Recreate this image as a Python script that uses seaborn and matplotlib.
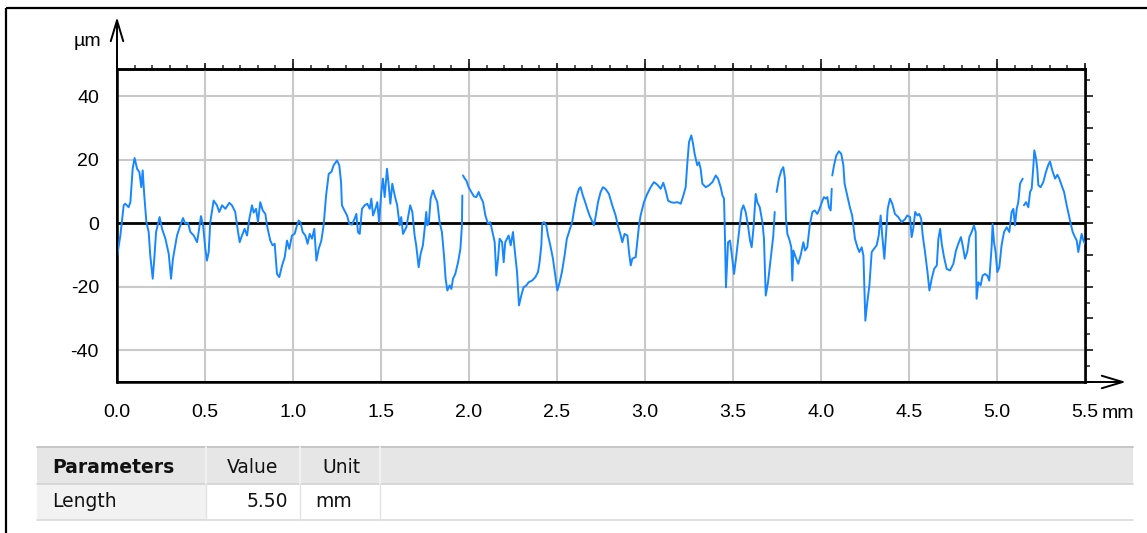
import numpy as np
import pandas as pd
import matplotlib
matplotlib.use("Agg")
import matplotlib.pyplot as plt
from matplotlib.ticker import MultipleLocator, FuncFormatter, NullFormatter, NullLocator
from matplotlib.patches import Rectangle
import seaborn as sns

# ---------------- data ----------------
x_a = [0.000,0.019,0.038,0.047,0.066,0.076,0.089,0.100,0.114,0.127,
       0.138,0.146,0.155,0.167,0.180,0.189,0.203,0.212,0.222,0.242,
       0.256,0.275,0.294,0.307,0.318,0.341,0.360,0.375,0.388,0.403,
       0.417,0.436,0.455,0.464,0.477,0.489,0.502,0.511,0.521,0.530,
       0.540,0.549,0.568,0.581,0.597,0.616,0.638,0.653,0.672,0.682,
       0.697,0.710,0.725,0.739,0.752,0.767,0.777,0.790,0.801,0.814,
       0.828,0.843,0.852,0.871,0.884,0.896,0.909,0.922,0.938,0.953,
       0.966,0.979,0.994,1.009,1.023,1.032,1.042,1.055,1.070,1.083,
       1.095,1.108,1.121,1.133,1.146,1.161,1.174,1.188,1.203,1.218,
       1.231,1.250,1.263,1.273,1.278,1.292,1.307,1.320,1.335,1.350,
       1.360,1.369,1.379]
y_a = [-10.7,-3.9,5.6,6.1,5.0,6.6,17.1,20.5,17.1,16.1,
       11.3,16.6,8.7,0.3,-2.8,-10.2,-17.5,-11.2,-2.8,1.9,
       -1.8,-4.9,-9.7,-17.5,-11.2,-3.9,-0.7,1.6,-0.2,0.1,
       -2.8,-3.9,-6.0,-2.8,2.2,-0.7,-8.1,-11.8,-9.1,0.3,
       4.0,7.1,5.6,3.5,5.6,4.5,6.4,5.6,3.5,-0.7,
       -6.0,-3.9,-1.8,-3.9,1.4,5.6,3.3,4.5,0.3,6.6,
       4.0,2.9,-0.7,-5.5,-7.0,-6.5,-16.0,-17.0,-13.3,-10.7,
       -5.5,-8.1,-3.9,-3.4,-0.7,0.8,0.3,-2.8,-3.9,-6.5,
       -3.4,-4.9,-1.8,-11.8,-8.1,-5.5,-0.7,8.7,15.5,16.1,
       18.2,19.7,18.2,12.9,5.6,4.0,2.4,-0.2,-0.5,1.4,
       2.9,-2.8,-3.4]

x_b = [1.392,1.407,1.422,1.436,1.445,1.455,1.468,1.479,1.489,1.502,
       1.511,1.521,1.534,1.543,1.553,1.564,1.578,1.592,1.606,1.615,
       1.625,1.644,1.657,1.666,1.678,1.691,1.700,1.714,1.725,1.738,
       1.748,1.757,1.763,1.772,1.782,1.795,1.808,1.820,1.833,1.846,
       1.858,1.867,1.877,1.890,1.900,1.909,1.922,1.938,1.951,1.960,
       1.962,1.966,1.976,1.985,1.998,2.013,2.028,2.042,2.055,2.066,
       2.080,2.093,2.108,2.121,2.133,2.146,2.155,2.165,2.174,2.188,
       2.197,2.206,2.216,2.225,2.237,2.250,2.259,2.273,2.284,2.297,
       2.310,2.326,2.339,2.358,2.377,2.392,2.401,2.411,2.416,2.426,
       2.439,2.449,2.462,2.477,2.490,2.502,2.515,2.528,2.543,2.556,
       2.571,2.586,2.600,2.613,2.625,2.634,2.647,2.660,2.672,2.685,
       2.698,2.710,2.719,2.733,2.748,2.761,2.775]
y_b = [4.5,5.6,6.1,4.5,7.7,2.4,4.5,6.6,0.3,9.8,
       14.0,8.2,17.1,12.4,6.1,12.4,8.7,5.6,-0.7,1.9,
       -3.4,-1.3,2.9,5.6,3.5,-3.9,-7.0,-13.9,-9.7,-7.0,
       -1.8,3.5,-0.7,0.3,7.7,10.3,8.2,6.6,0.3,-2.8,
       -10.2,-17.5,-21.2,-19.6,-20.7,-17.5,-16.0,-12.3,-8.1,-0.7,
       8.7,15.0,14.0,13.4,11.3,9.8,8.4,8.2,9.8,8.2,
       6.6,2.4,-0.2,0.3,-2.8,-6.0,-16.5,-11.2,-4.9,-6.0,
       -12.3,-6.0,-4.9,-3.9,-7.0,-2.8,-8.1,-15.4,-25.9,-22.8,
       -20.2,-19.6,-18.6,-18.1,-17.0,-15.4,-12.3,-7.0,-0.2,0.3,
       -0.7,-3.9,-7.0,-11.2,-16.5,-21.2,-18.6,-15.4,-10.2,-4.9,
       -2.3,0.3,5.0,8.7,10.8,11.3,8.7,6.6,4.5,2.4,
       0.8,-0.7,1.9,6.6,9.8,11.3,10.8]

x_c = [2.795,2.814,2.833,2.846,2.862,2.871,2.884,2.900,2.909,2.919,
       2.928,2.947,2.956,2.966,2.975,2.994,3.013,3.032,3.051,3.070,
       3.089,3.104,3.117,3.131,3.146,3.165,3.184,3.203,3.218,3.231,
       3.241,3.250,3.263,3.273,3.282,3.297,3.307,3.316,3.326,3.345,
       3.364,3.383,3.402,3.415,3.430,3.440,3.449,3.455,3.460,3.472,
       3.483,3.496,3.506,3.519,3.534,3.548,3.559,3.572,3.585,3.597,
       3.606,3.616,3.629,3.638,3.652,3.667,3.676,3.686,3.699,3.714,
       3.729,3.737,3.748,3.761,3.775,3.786,3.795,3.801,3.809,3.822,
       3.831,3.837,3.843,3.856,3.871,3.884,3.900,3.909,3.922,3.936,
       3.951,3.964,3.979,3.992,4.008,4.017,4.027,4.036,4.045,4.055,
       4.061,4.064,4.074,4.087,4.102,4.115,4.127,4.134,4.149,4.164,
       4.177]
y_c = [9.2,5.6,2.4,-0.7,-3.9,-6.0,-3.4,-3.9,-9.1,-13.3,
       -11.2,-10.7,-6.0,-0.7,2.4,6.6,9.2,11.3,12.9,12.1,
       10.8,12.7,10.3,7.1,6.6,6.4,6.6,6.1,8.7,11.3,
       19.2,25.5,27.6,25.0,21.8,18.2,19.2,17.1,12.4,11.3,
       11.9,12.9,15.0,14.0,11.3,8.7,7.7,-6.0,-20.2,-6.0,
       -5.5,-11.2,-16.0,-10.2,-2.8,4.0,5.6,3.5,-0.7,-5.5,
       -7.6,-1.8,9.2,6.6,5.0,0.3,-4.9,-22.8,-18.6,-11.2,
       -3.9,3.5,9.8,14.0,16.6,17.6,14.0,1.4,-3.4,-5.5,
       -7.6,-18.1,-8.6,-10.7,-12.8,-10.2,-6.0,-8.6,-7.6,-0.7,
       3.5,4.0,2.9,4.5,7.1,8.2,7.7,8.2,5.0,4.0,
       10.8,15.0,18.2,21.3,22.6,21.8,18.2,12.4,8.7,5.0,
       2.4]

x_d = [4.193,4.207,4.218,4.231,4.241,4.246,4.252,4.263,4.275,4.288,
       4.301,4.316,4.328,4.339,4.348,4.360,4.369,4.379,4.392,4.405,
       4.420,4.439,4.458,4.477,4.490,4.506,4.515,4.524,4.535,4.548,
       4.558,4.569,4.578,4.591,4.605,4.616,4.629,4.643,4.658,4.667,
       4.677,4.686,4.699,4.714,4.733,4.752,4.767,4.780,4.795,4.805,
       4.818,4.831,4.843,4.856,4.869,4.879,4.884,4.894,4.907,4.918,
       4.932,4.945,4.956,4.970,4.975,4.983,4.992,5.002,5.013,5.026,
       5.040,5.055,5.070,5.083,5.093,5.102,5.112,5.121,5.131,5.146,
       5.153,5.165,5.178,5.188,5.197,5.207,5.212,5.222,5.229,5.235,
       5.248,5.263,5.278,5.292,5.301,5.314,5.330,5.343,5.354,5.367,
       5.381,5.396,5.415,5.430,5.443,5.453,5.462,5.472,5.481,5.491,
       5.500]
y_d = [-4.9,-7.6,-9.1,-7.6,-10.2,-19.6,-30.7,-24.9,-19.6,-9.1,
       -8.1,-7.0,-3.9,2.4,-3.9,-11.2,-3.9,4.5,7.7,6.1,
       2.9,1.9,0.3,1.2,2.4,1.9,-4.4,-1.8,3.5,2.4,
       2.9,1.4,-3.9,-9.1,-15.4,-21.2,-17.5,-14.4,-13.3,-4.9,
       -1.8,-6.5,-10.7,-14.4,-14.9,-12.8,-8.6,-6.5,-4.4,-7.0,
       -11.2,-9.1,-4.4,-2.8,-0.7,-2.8,-23.8,-18.6,-19.6,-16.5,
       -16.0,-16.5,-18.1,-7.0,-0.2,-6.0,-9.1,-15.4,-13.9,-7.0,
       -2.8,-1.3,-2.8,3.5,4.5,-0.7,4.5,6.6,12.4,14.0,
       5.6,6.6,5.0,9.8,10.8,18.2,22.9,20.3,16.9,11.9,
       11.3,12.9,16.1,18.4,19.4,16.6,14.0,15.2,14.0,11.9,
       9.8,5.6,0.8,-2.8,-4.4,-5.5,-9.1,-6.0,-3.4,-5.5,
       -6.5]

# small breaks in the recorded profile (line is interrupted after these x)
gap_after_mm = [1.962, 3.737, 4.061, 5.146]

x_ticks_mm = [0.0, 0.5, 1.0, 1.5, 2.0, 2.5, 3.0, 3.5, 4.0, 4.5, 5.0, 5.5]
y_grid_um = [-40, -20, 20, 40]
x_unit = "mm"
y_unit = "µm"

table_header = ["Parameters", "Value", "Unit"]
table_row = ["Length", "5.50", "mm"]

# ---------------- build frame ----------------
xs = x_a + x_b + x_c + x_d
ys = y_a + y_b + y_c + y_d
assert len(xs) == len(ys)
df = pd.DataFrame({"x": xs, "y": ys})
df["seg"] = np.searchsorted(np.array(gap_after_mm), df["x"].values, side="left")

sns.set_theme(style="white")
tick_font = ["Liberation Sans Narrow", "Liberation Sans", "DejaVu Sans"]
plt.rcParams["font.family"] = tick_font

W, H = 1147, 533
fig = plt.figure(figsize=(W / 100, H / 100), dpi=100)
fig.patch.set_facecolor("white")

# background / table layer in pixel coordinates
bg = fig.add_axes([0, 0, 1, 1])
bg.set_xlim(0, W)
bg.set_ylim(H, 0)
bg.axis("off")
bg.set_zorder(0)
bg.patch.set_alpha(0)

# outer frame lines
bg.plot([6, W], [8, 8], color="black", lw=1.6, solid_capstyle="butt")
bg.plot([6, 6], [8, H], color="black", lw=1.6, solid_capstyle="butt")

# table
tx0, tx1 = 37, 1133
ty0, ty1, ty2 = 447, 484, 520
cols = [37, 206, 300, 380]
bg.add_patch(Rectangle((tx0, ty0), tx1 - tx0, ty1 - ty0, fc="#e6e6e6", ec="none"))
bg.add_patch(Rectangle((cols[0], ty1), cols[1] - cols[0], ty2 - ty1, fc="#f2f2f2", ec="none"))
bg.plot([tx0, tx1], [ty0, ty0], color="#c6c6c6", lw=1.4)
bg.plot([tx0, tx1], [ty1, ty1], color="#d2d2d2", lw=1.2)
bg.plot([tx0, tx1], [ty2, ty2], color="#d9d9d9", lw=1.2)
for cx in cols[1:]:
    bg.plot([cx, cx], [ty0, ty1], color="#f4f4f4", lw=1.2)
    bg.plot([cx, cx], [ty1, ty2], color="#e2e2e2", lw=1.0)

tfont = dict(family=["DejaVu Sans"], fontsize=13.5, color="#111111")
bg.text(52, 473, table_header[0], ha="left", va="baseline", fontweight="bold", **tfont)
bg.text(253, 473, table_header[1], ha="center", va="baseline", **tfont)
bg.text(341, 473, table_header[2], ha="center", va="baseline", **tfont)
bg.text(52, 507, table_row[0], ha="left", va="baseline", **tfont)
bg.text(288, 507, table_row[1], ha="right", va="baseline", **tfont)
bg.text(315, 507, table_row[2], ha="left", va="baseline", **tfont)

# main plot
L, R, T, B = 117, 1085, 69, 382
ax = fig.add_axes([L / W, (H - B) / H, (R - L) / W, (B - T) / H])
ax.set_zorder(2)
ax.set_facecolor("white")

sns.lineplot(data=df, x="x", y="y", units="seg", estimator=None, sort=False,
             color="#1787ff", linewidth=1.4, ax=ax, zorder=3)

ax.set_xlim(0, 5.5)
ax.set_ylim(-50, 48.5)
ax.set_xlabel("")
ax.set_ylabel("")

for xv in x_ticks_mm:
    ax.axvline(xv, color="#c9c9c9", lw=1.5, zorder=1)
for yv in y_grid_um:
    ax.axhline(yv, color="#c9c9c9", lw=1.5, zorder=1)
ax.axhline(0, color="black", lw=2.0, zorder=2)

for s in ax.spines.values():
    s.set_color("black")
    s.set_linewidth(1.8)

ax.xaxis.set_major_locator(MultipleLocator(0.5))
ax.xaxis.set_minor_locator(MultipleLocator(0.1))
ax.xaxis.set_major_formatter(FuncFormatter(lambda v, p: f"{v:.1f}"))
ax.yaxis.set_major_locator(MultipleLocator(10))
ax.yaxis.set_minor_locator(MultipleLocator(5))
ax.yaxis.set_major_formatter(FuncFormatter(lambda v, p: f"{int(round(v))}" if round(v) % 20 == 0 and abs(v) < 45 else ""))

ax.tick_params(axis="x", which="major", direction="out", length=5, width=1.3, pad=10.5,
               labelsize=14, colors="black", top=False)
ax.tick_params(axis="x", which="minor", direction="out", length=2.6, width=1.1, top=False)
ax.tick_params(axis="y", which="major", direction="out", length=6, width=1.3, pad=7,
               labelsize=14, colors="black", right=False)
ax.tick_params(axis="y", which="minor", direction="out", length=3.5, width=1.1, right=False)

# top ticks: long at whole mm, medium at half mm, short at 0.1 mm
top1 = ax.secondary_xaxis("top")
top1.xaxis.set_major_locator(MultipleLocator(1.0))
top1.xaxis.set_minor_locator(MultipleLocator(0.1))
top1.xaxis.set_major_formatter(NullFormatter())
top1.tick_params(which="major", direction="out", length=7, width=1.3)
top1.tick_params(which="minor", direction="out", length=3, width=1.1)
top1.spines["top"].set_linewidth(1.8)
top2 = ax.secondary_xaxis("top")
top2.xaxis.set_major_locator(MultipleLocator(0.5))
top2.xaxis.set_minor_locator(NullLocator())
top2.xaxis.set_major_formatter(NullFormatter())
top2.tick_params(which="major", direction="out", length=4.3, width=1.3)
top2.spines["top"].set_linewidth(1.8)

right = ax.secondary_yaxis("right")
right.yaxis.set_major_locator(MultipleLocator(10))
right.yaxis.set_minor_locator(MultipleLocator(5))
right.yaxis.set_major_formatter(NullFormatter())
right.tick_params(which="major", direction="out", length=5.8, width=1.3)
right.tick_params(which="minor", direction="out", length=3.6, width=1.1)
right.spines["right"].set_linewidth(1.8)

# axis arrows
arrow = dict(arrowstyle="->,head_length=1.5,head_width=0.45", color="black", lw=1.4,
             shrinkA=0, shrinkB=0, mutation_scale=10)
ax.annotate("", xy=(L, H - 17), xytext=(L, H - B), xycoords="figure pixels",
            textcoords="figure pixels", arrowprops=arrow, annotation_clip=False)
ax.annotate("", xy=(1126, H - B), xytext=(L, H - B), xycoords="figure pixels",
            textcoords="figure pixels", arrowprops=arrow, annotation_clip=False)

# unit labels
fig.text(87 / W, 1 - 42 / H, y_unit, ha="center", va="center", fontsize=14,
         color="black")
fig.text(1102 / W, 1 - 413 / H, x_unit, ha="left", va="center", fontsize=14,
         color="black")

fig.savefig("out.png", dpi=100, facecolor="white")
